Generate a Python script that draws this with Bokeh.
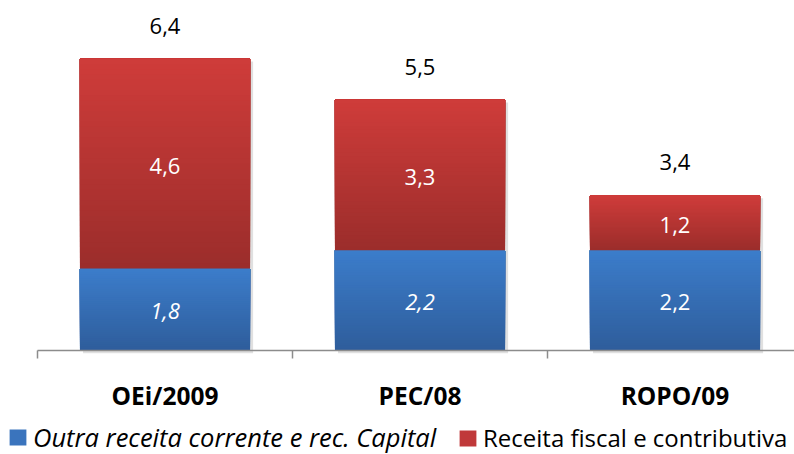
from bokeh.plotting import figure
from bokeh.models import Range1d, Legend, LegendItem, ColumnDataSource
from bokeh.core.properties import value
from bokeh.embed import file_html
from bokeh.resources import INLINE

# ---- data ----
categories = ["OEi/2009", "PEC/08", "ROPO/09"]
outra_receita = [1.8, 2.2, 2.2]
receita_fiscal = [4.6, 3.3, 1.2]
totals = [6.4, 5.5, 3.4]
outra_labels = ["1,8", "2,2", "2,2"]
outra_label_styles = ["italic", "italic", "normal"]
fiscal_labels = ["4,6", "3,3", "1,2"]
total_labels = ["6,4", "5,5", "3,4"]
series_names = ["Outra receita corrente e rec. Capital", "Receita fiscal e contributiva"]

# ---- styling / layout ----
FONT = "Open Sans"
BLUE_TOP, BLUE_BOT, BLUE_MID = (60, 125, 203), (46, 93, 155), "#3a74bd"
RED_TOP, RED_BOT, RED_MID = (207, 60, 58), (155, 45, 43), "#c0393a"
BAR_W = 0.667
W, H = 794, 454
PX_X = 255.0     # pixels per category
PX_Y = 45.6      # pixels per unit
AXIS_LEFT_PX = 37
BASE_PX = 350
X0 = -0.5 - AXIS_LEFT_PX / PX_X
X1 = X0 + W / PX_X
Y1 = BASE_PX / PX_Y
Y0 = -(H - BASE_PX) / PX_Y
TICK = 8 / PX_Y

xs = list(range(len(categories)))
fiscal_bottom = outra_receita
fiscal_top = [a + b for a, b in zip(outra_receita, receita_fiscal)]

p = figure(width=W, height=H,
           x_range=Range1d(X0, X1), y_range=Range1d(Y0, Y1),
           output_backend="svg", toolbar_location=None,
           x_axis_location=None, y_axis_location=None,
           min_border=0)
p.outline_line_color = None
p.xgrid.visible = False
p.ygrid.visible = False
p.background_fill_color = "white"
p.border_fill_color = "white"

# soft shadow
p.vbar(x=[x + 0.012 for x in xs], width=BAR_W, bottom=-0.06,
       top=[t - 0.06 for t in fiscal_top], fill_color="#000000",
       fill_alpha=0.12, line_color=None)

# main bars (solid; used for legend)
r_blue = p.vbar(x=xs, width=BAR_W, bottom=0, top=outra_receita,
                fill_color=BLUE_MID, line_color=None)
r_red = p.vbar(x=xs, width=BAR_W, bottom=fiscal_bottom, top=fiscal_top,
               fill_color=RED_MID, line_color=None)


def gradient(bottoms, tops, c_top, c_bot, n=40):
    gx, gb, gt, gc = [], [], [], []
    for x, b, t in zip(xs, bottoms, tops):
        for k in range(n):
            f = k / n
            frac = (k + 0.5) / n
            col = tuple(int(round(cb + (ct - cb) * frac)) for ct, cb in zip(c_top, c_bot))
            gx.append(x)
            gb.append(b + (t - b) * f)
            gt.append(t)
            gc.append("#%02x%02x%02x" % col)
    return ColumnDataSource(dict(x=gx, bottom=gb, top=gt, color=gc))


p.vbar(x="x", width=BAR_W, bottom="bottom", top="top", fill_color="color",
       line_color=None, source=gradient([0] * len(xs), outra_receita, BLUE_TOP, BLUE_BOT))
p.vbar(x="x", width=BAR_W, bottom="bottom", top="top", fill_color="color",
       line_color=None, source=gradient(fiscal_bottom, fiscal_top, RED_TOP, RED_BOT))

# category baseline with boundary ticks
bounds = [i - 0.5 for i in range(len(categories) + 1)]
p.segment(x0=[bounds[0]], y0=[0], x1=[X1], y1=[0], line_color="#8c8c8c", line_width=1.5)
p.segment(x0=bounds, y0=[0] * len(bounds), x1=bounds, y1=[-TICK] * len(bounds),
          line_color="#8c8c8c", line_width=1.5)

# value labels
blue_src = ColumnDataSource(dict(x=xs, y=[v / 2 for v in outra_receita],
                                 text=outra_labels, style=outra_label_styles))
p.text(x="x", y="y", text="text", source=blue_src, text_font=value(FONT),
       text_font_size="22px", text_font_style="style", text_color="white",
       text_align="center", text_baseline="middle", y_offset=2)
p.text(x=xs, y=[b + v / 2 for b, v in zip(fiscal_bottom, receita_fiscal)],
       text=fiscal_labels, text_font=value(FONT), text_font_size="22px",
       text_color="white", text_align="center", text_baseline="middle", y_offset=2)
p.text(x=xs, y=totals, text=total_labels, text_font=value(FONT),
       text_font_size="22px", text_color="black", text_align="center",
       text_baseline="middle", y_offset=-33)

# category labels
p.text(x=xs, y=[0] * len(xs), text=categories, text_font=value(FONT),
       text_font_size="24.5px", text_font_style="bold", text_color="black",
       text_align="center", text_baseline="middle", y_offset=45)

# legends
def make_legend(label, rend, loc, style, size):
    return Legend(items=[LegendItem(label=label, renderers=[rend])], location=loc,
                  orientation="horizontal", padding=0, margin=0, spacing=0,
                  border_line_color=None, background_fill_alpha=0,
                  glyph_width=21, glyph_height=20, label_standoff=5,
                  label_text_font=FONT, label_text_font_size=size,
                  label_text_font_style=style, label_text_color="black")

p.add_layout(make_legend(series_names[0], r_blue, (7, 0), "italic", "25.5px"), "center")
p.add_layout(make_legend(series_names[1], r_red, (457, 0), "normal", "24px"), "center")

open("out.html", "w").write(file_html(p, INLINE))
